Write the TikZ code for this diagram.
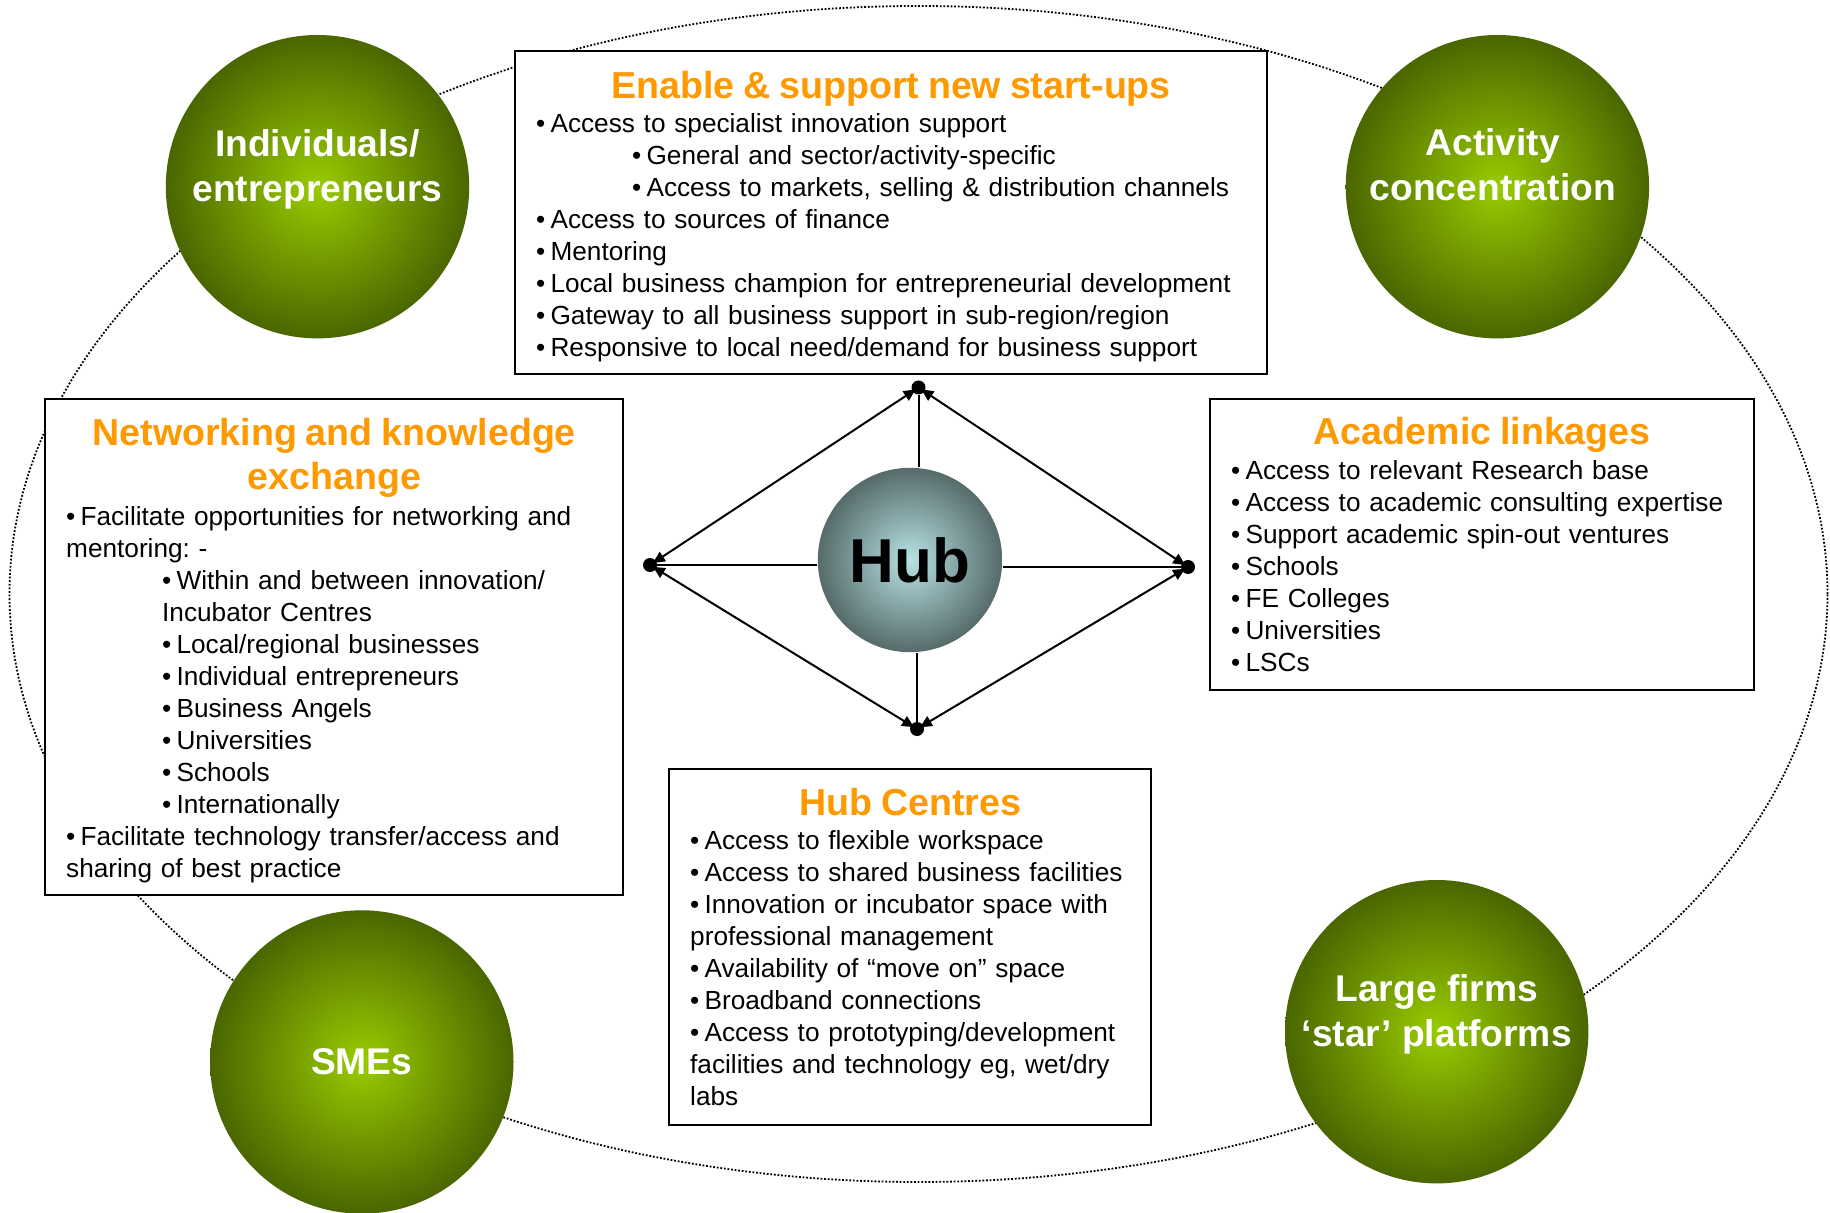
\documentclass[tikz,border=0pt]{standalone}
\usepackage{fontspec}
\setmainfont{Liberation Sans}
\usetikzlibrary{arrows.meta}
\setlength\parindent{0pt}
\frenchspacing
\definecolor{hdorange}{HTML}{FF9900}
\definecolor{glight}{HTML}{99CC00}
\definecolor{gdark}{HTML}{4A6600}
\definecolor{hlight}{HTML}{B8E2E4}
\definecolor{hdark}{HTML}{566B6A}
\newcommand\hd{\fontsize{18.8}{22}\selectfont\bfseries\color{hdorange}}
\newcommand\bul[1]{\mbox{•\hspace{2.6pt}#1}}
\newcommand\ind{\hspace*{48pt}}

\begin{document}
\begin{tikzpicture}[x=0.5pt,y=-0.5pt,
  box/.style={draw,line width=1.2pt,fill=white,anchor=north west,inner xsep=10.5pt,inner ysep=0pt,
    align=left,font=\fontsize{13.1}{16}\selectfont},
  ball/.style={circle,minimum size=151.7pt,inner sep=0pt,inner color=glight,outer color=gdark},
  balltext/.style={text=white,font=\fontsize{18.6}{22.7}\selectfont\bfseries,align=center},
  dot/.style={circle,fill=black,inner sep=0pt,minimum size=7pt},
  link/.style={line width=1pt,<->,shorten <=-2pt,shorten >=-2pt},
  >={Triangle[length=6pt,width=5.5pt]}]
  \useasboundingbox (0,0) rectangle (1830,1213);
  \draw[line width=0.9pt,dash pattern=on 0.9pt off 0.9pt] (918.5,594) ellipse [x radius=454.5pt,y radius=294pt];

  \node[box,text width=355pt,minimum height=161.5pt] (startups) at (514,50) {%
    {\hd\centering\rule{0pt}{17.7pt}Enable \& support new start-ups\par}\vspace{0.75pt}
    \bul{Access to specialist innovation support}\\
    \ind\bul{General and sector/activity-specific}\\
    \ind\bul{Access to markets, selling \& distribution channels}\\
    \bul{Access to sources of finance}\\
    \bul{Mentoring}\\
    \bul{Local business champion for entrepreneurial development}\\
    \bul{Gateway to all business support in sub-region/region}\\
    \bul{Responsive to local need/demand for business support}};
  \node[box,text width=268pt,minimum height=248pt] (network) at (44,398) {%
    {\hd\centering\rule{0pt}{17.2pt}Networking and knowledge\\exchange\par}\vspace{1.7pt}
    \bul{Facilitate opportunities for networking and}\\
    mentoring: -\\
    \ind\bul{Within and between innovation/}\\
    \ind Incubator Centres\\
    \ind\bul{Local/regional businesses}\\
    \ind\bul{Individual entrepreneurs}\\
    \ind\bul{Business Angels}\\
    \ind\bul{Universities}\\
    \ind\bul{Schools}\\
    \ind\bul{Internationally}\\
    \bul{Facilitate technology transfer/access and}\\
    sharing of best practice};
  \node[box,text width=251pt,minimum height=145.5pt] (academic) at (1209,398) {%
    {\hd\centering Academic linkages\par}\vspace{1.25pt}
    \bul{Access to relevant Research base}\\
    \bul{Access to academic consulting expertise}\\
    \bul{Support academic spin-out ventures}\\
    \bul{Schools}\\
    \bul{FE Colleges}\\
    \bul{Universities}\\
    \bul{LSCs}};
  \node[box,text width=220pt,minimum height=178pt] (centres) at (668,768) {%
    {\hd\centering Hub Centres\par}\vspace{1.25pt}
    \bul{Access to flexible workspace}\\
    \bul{Access to shared business facilities}\\
    \bul{Innovation or incubator space with}\\
    professional management\\
    \bul{Availability of “move on” space}\\
    \bul{Broadband connections}\\
    \bul{Access to prototyping/development}\\
    facilities and technology eg, wet/dry\\
    labs};

  \node[ball,label={[balltext,yshift=8.7pt]center:{Individuals/\\entrepreneurs}}] (indiv) at (317.5,186.7) {};
  \node[ball,label={[balltext,yshift=11pt,xshift=-2.3pt]center:{Activity\\concentration}}] (activity) at (1497.4,186.7) {};
  \node[ball,label={[balltext]center:{SMEs}}] (smes) at (361.8,1062) {};
  \node[ball,label={[balltext,yshift=8.8pt]center:{Large firms\\‘star’ platforms}}] (large) at (1436.7,1031.7) {};

  \node[dot] (up) at (918.5,387.5) {};
  \node[dot] (lt) at (650,565) {};
  \node[dot] (rt) at (1188,567) {};
  \node[dot] (dn) at (917,729) {};
  \node[circle,minimum size=92.2pt,inner sep=0pt,inner color=hlight,outer color=hdark,
    font=\fontsize{31}{31}\selectfont\bfseries] (hub) at (910,560) {Hub};
  \draw[line width=1pt] (up) -- (up |- hub.north)
    (dn) -- (dn |- hub.south)
    (lt) -- (hub.west |- lt)
    (rt) -- (hub.east |- rt);
  \draw[link] (up) -- (lt);
  \draw[link] (up) -- (rt);
  \draw[link] (dn) -- (lt);
  \draw[link] (dn) -- (rt);
\end{tikzpicture}
\end{document}
